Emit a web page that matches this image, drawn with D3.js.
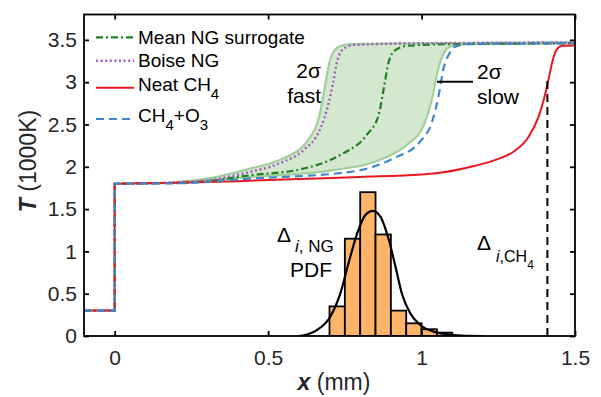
<!DOCTYPE html>
<html><head><meta charset="utf-8">
<script src="https://cdn.jsdelivr.net/npm/d3@7"></script>
<style>
html,body{margin:0;padding:0;background:#fff;}
svg text{font-family:"Liberation Sans",Arial,Helvetica,sans-serif;}
</style></head>
<body><svg id="c" width="601" height="397"></svg>
<script>
// ---------- data ----------
const xTicks = [0, 0.5, 1, 1.5];
const yTicks = [0, 0.5, 1, 1.5, 2, 2.5, 3, 3.5];
const xTickLabels = ["0", "0.5", "1", "1.5"];
const yTickLabels = ["0", "0.5", "1", "1.5", "2", "2.5", "3", "3.5"];

// unburnt step shared by all curves
const stepX = [-0.1, 0, 0];
const stepT = [0.3, 0.3, 1.8];

const meanNGx = [0, 0.2, 0.3, 0.442, 0.605, 0.735, 0.822, 0.86, 0.877, 0.893, 0.915, 0.953, 1.1, 1.5];
const meanNGt = [1.8, 1.81, 1.83, 1.9, 1.97, 2.14, 2.38, 2.61, 2.93, 3.24, 3.38, 3.43, 3.45, 3.46];

const boiseX = [0, 0.2, 0.3, 0.442, 0.507, 0.55, 0.616, 0.67, 0.697, 0.712, 0.725, 0.745, 0.78, 1.0, 1.5];
const boiseT = [1.8, 1.815, 1.84, 1.94, 2.0, 2.06, 2.2, 2.45, 2.75, 3.0, 3.25, 3.39, 3.44, 3.46, 3.47];

const neatX = [0, 0.2, 0.4, 0.6, 0.8, 1.0, 1.06, 1.171, 1.248, 1.304, 1.348, 1.381, 1.398, 1.413, 1.426, 1.439, 1.459, 1.5];
const neatT = [1.8, 1.81, 1.83, 1.855, 1.88, 1.91, 1.93, 2.01, 2.09, 2.19, 2.35, 2.59, 2.79, 3.02, 3.24, 3.38, 3.43, 3.435];

const ozoneX = [0, 0.2, 0.442, 0.768, 0.909, 0.996, 1.034, 1.056, 1.072, 1.088, 1.11, 1.15, 1.5];
const ozoneT = [1.8, 1.805, 1.86, 1.94, 2.1, 2.3, 2.53, 2.85, 3.17, 3.32, 3.42, 3.45, 3.46];

// 2-sigma envelope
const fastX = [0.2, 0.3, 0.442, 0.55, 0.627, 0.67, 0.686, 0.703, 0.73, 0.768, 1.0, 1.5];
const fastT = [1.82, 1.86, 1.98, 2.1, 2.3, 2.65, 2.97, 3.28, 3.42, 3.45, 3.46, 3.47];
const slowX = [0.2, 0.442, 0.713, 0.877, 0.953, 1.007, 1.037, 1.05, 1.067, 1.094, 1.15, 1.5];
const slowT = [1.805, 1.88, 1.96, 2.1, 2.26, 2.49, 2.85, 3.09, 3.3, 3.42, 3.45, 3.46];

// histogram of ignition delay (scaled PDF)
const binStart = [0.70, 0.75, 0.80, 0.85, 0.90, 0.95, 1.00, 1.05];
const binWidth = 0.05;
const binValue = [0.35, 1.15, 1.70, 1.20, 0.30, 0.15, 0.08, 0.04];

const pdfX = [0.6, 0.63, 0.659, 0.703, 0.735, 0.762, 0.79, 0.817, 0.841, 0.866, 0.893, 0.915, 0.936, 0.963, 0.996, 1.04, 1.083, 1.13, 1.2];
const pdfT = [0, 0.02, 0.07, 0.23, 0.5, 0.86, 1.21, 1.43, 1.48, 1.41, 1.14, 0.82, 0.5, 0.27, 0.13, 0.05, 0.02, 0.005, 0];

const ch4Delay = 1.41;
const ch4DelayT = 3.03;

const seriesNames = ["Mean NG surrogate", "Boise NG", "Neat CH4", "CH4+O3"];

// ---------- drawing ----------
const svg = d3.select("#c");
const L = 84, R = 575, T = 14.5, B = 336;
const x = d3.scaleLinear().domain([-0.1, 1.5]).range([L, R]);
const y = d3.scaleLinear().domain([0, 3.8]).range([B, T]);

const styles = [
  {color: "#1f7f1f", dash: "7,3,2,3", w: 2.2},
  {color: "#a35bbf", dash: "2,2.6", w: 2.4},
  {color: "#e8171f", dash: null, w: 2},
  {color: "#3f87c9", dash: "8,5", w: 2.2}
];
const seriesX = [meanNGx, boiseX, neatX, ozoneX];
const seriesT = [meanNGt, boiseT, neatT, ozoneT];

const zip = (xs, ts) => xs.map((v, i) => [v, ts[i]]);
const lineSmooth = d3.line().x(d => x(d[0])).y(d => y(d[1])).curve(d3.curveMonotoneX);
const lineLin = d3.line().x(d => x(d[0])).y(d => y(d[1]));

svg.append("clipPath").attr("id", "pc").append("rect")
  .attr("x", L).attr("y", T).attr("width", R - L).attr("height", B - T);
const g = svg.append("g").attr("clip-path", "url(#pc)");

// envelope fill
const upper = zip(fastX, fastT);
const lower = zip(slowX, slowT);
const upPath = lineSmooth(upper);
const loRev = lineSmooth(lower.slice().reverse());
g.append("path").attr("d", upPath + "L" + loRev.slice(1) + "Z")
  .attr("fill", "#d3e8cf").attr("stroke", "none");
[upper, lower].forEach(p => g.append("path").attr("d", lineSmooth(p))
  .attr("fill", "none").attr("stroke", "#a2cd9c").attr("stroke-width", 2.2));

// histogram
g.selectAll("rect.bin").data(binStart).enter().append("rect")
  .attr("x", d => x(d)).attr("width", d => x(d + binWidth) - x(d))
  .attr("y", (d, i) => y(binValue[i])).attr("height", (d, i) => y(0) - y(binValue[i]))
  .attr("fill", "#ffb468").attr("stroke", "#000").attr("stroke-width", 1.8);
g.append("path").attr("d", lineSmooth(zip(pdfX, pdfT)))
  .attr("fill", "none").attr("stroke", "#000").attr("stroke-width", 2.2);

// temperature curves
seriesX.forEach((xs, i) => {
  const s = styles[i];
  const d = lineLin(zip(stepX, stepT)) + lineSmooth(zip(xs, seriesT[i])).replace(/^M/, "L");
  const p = g.append("path").attr("d", d).attr("fill", "none")
    .attr("stroke", s.color).attr("stroke-width", s.w);
  if (s.dash) p.attr("stroke-dasharray", s.dash);
});

// CH4 ignition delay marker
g.append("line").attr("x1", x(ch4Delay)).attr("x2", x(ch4Delay))
  .attr("y1", y(0)).attr("y2", y(ch4DelayT))
  .attr("stroke", "#000").attr("stroke-width", 2).attr("stroke-dasharray", "8,5");

// axes
const tickCol = "#262626";
const ax = svg.append("g").attr("transform", `translate(0,${B})`)
  .call(d3.axisBottom(x).tickValues(xTicks).tickFormat((d, i) => xTickLabels[i]).tickSizeInner(-5).tickSizeOuter(0).tickPadding(14));
const ay = svg.append("g").attr("transform", `translate(${L},0)`)
  .call(d3.axisLeft(y).tickValues(yTicks).tickFormat((d, i) => yTickLabels[i]).tickSizeInner(-5).tickSizeOuter(0).tickPadding(7));
const at = svg.append("g").attr("transform", `translate(0,${T})`)
  .call(d3.axisTop(x).tickValues(xTicks).tickFormat("").tickSizeInner(-5).tickSizeOuter(0));
const ar = svg.append("g").attr("transform", `translate(${R},0)`)
  .call(d3.axisRight(y).tickValues(yTicks).tickFormat("").tickSizeInner(-5).tickSizeOuter(0));
[ax, ay, at, ar].forEach(a => {
  a.select(".domain").remove();
  a.selectAll(".tick line").attr("stroke", "#000").attr("stroke-width", 1.8);
  a.selectAll(".tick text").attr("fill", tickCol).style("font-size", "21px")
    .style("font-family", '"Liberation Sans",Arial,sans-serif');
});
svg.append("rect").attr("x", L).attr("y", T).attr("width", R - L).attr("height", B - T)
  .attr("fill", "none").attr("stroke", "#000").attr("stroke-width", 1.8);

// axis labels
const xl = svg.append("text").attr("x", 334).attr("y", 390).attr("text-anchor", "middle")
  .attr("fill", tickCol).style("font-size", "23px");
xl.append("tspan").text("x").style("font-weight", "bold").style("font-style", "italic");
xl.append("tspan").text(" (mm)");
const yl = svg.append("text").attr("transform", "translate(36,161) rotate(-90)")
  .attr("text-anchor", "middle").attr("fill", tickCol).style("font-size", "23px");
yl.append("tspan").text("T").style("font-weight", "bold").style("font-style", "italic");
yl.append("tspan").text(" (1000K)");

// legend
const legLineY = [37.3, 60.7, 87.7, 119];
const legTextY = [44, 67.3, 90.7, 122];
const lg = svg.append("g");
seriesNames.forEach((name, i) => {
  const s = styles[i];
  const ln = lg.append("line").attr("x1", 96).attr("x2", 134)
    .attr("y1", legLineY[i]).attr("y2", legLineY[i])
    .attr("stroke", s.color).attr("stroke-width", s.w);
  if (s.dash) ln.attr("stroke-dasharray", s.dash);
  const t = lg.append("text").attr("x", 138).attr("y", legTextY[i])
    .attr("fill", "#000").style("font-size", "19px");
  // digits in chemical formulas are drawn as subscripts
  const toks = name.match(/\d+|\D+/g);
  let prevSub = false;
  toks.forEach(k => {
    const isSub = /^\d+$/.test(k);
    const ts = t.append("tspan").text(k);
    if (isSub) { ts.style("font-size", "15px").attr("dy", 8); prevSub = true; }
    else if (prevSub) { ts.attr("dy", -8); prevSub = false; }
  });
});

// annotations
const ann = svg.append("g").attr("fill", "#000").style("font-size", "21px");
ann.append("text").attr("x", 321).attr("y", 78).attr("text-anchor", "end").text("2σ");
ann.append("text").attr("x", 321).attr("y", 103).attr("text-anchor", "end").text("fast");
ann.append("text").attr("x", 477).attr("y", 79).text("2σ");
ann.append("text").attr("x", 477).attr("y", 104).text("slow");
svg.append("line").attr("x1", 437).attr("x2", 473).attr("y1", 81.7).attr("y2", 81.7)
  .attr("stroke", "#000").attr("stroke-width", 2);

const d1 = ann.append("text").attr("x", 277).attr("y", 242);
d1.append("tspan").text("Δ");
d1.append("tspan").attr("dx", 4).attr("dy", 10).style("font-size", "17px").style("font-style", "italic").text("i");
d1.append("tspan").style("font-size", "17px").text(", NG");
ann.append("text").attr("x", 311).attr("y", 277).attr("text-anchor", "middle").text("PDF");

const d2 = ann.append("text").attr("x", 477).attr("y", 250);
d2.append("tspan").text("Δ");
d2.append("tspan").attr("dx", 5).attr("dy", 12).style("font-size", "16px").style("font-style", "italic").text("i");
d2.append("tspan").style("font-size", "16px").text(",CH");
d2.append("tspan").attr("dy", 7).style("font-size", "12px").text("4");
</script></body></html>
